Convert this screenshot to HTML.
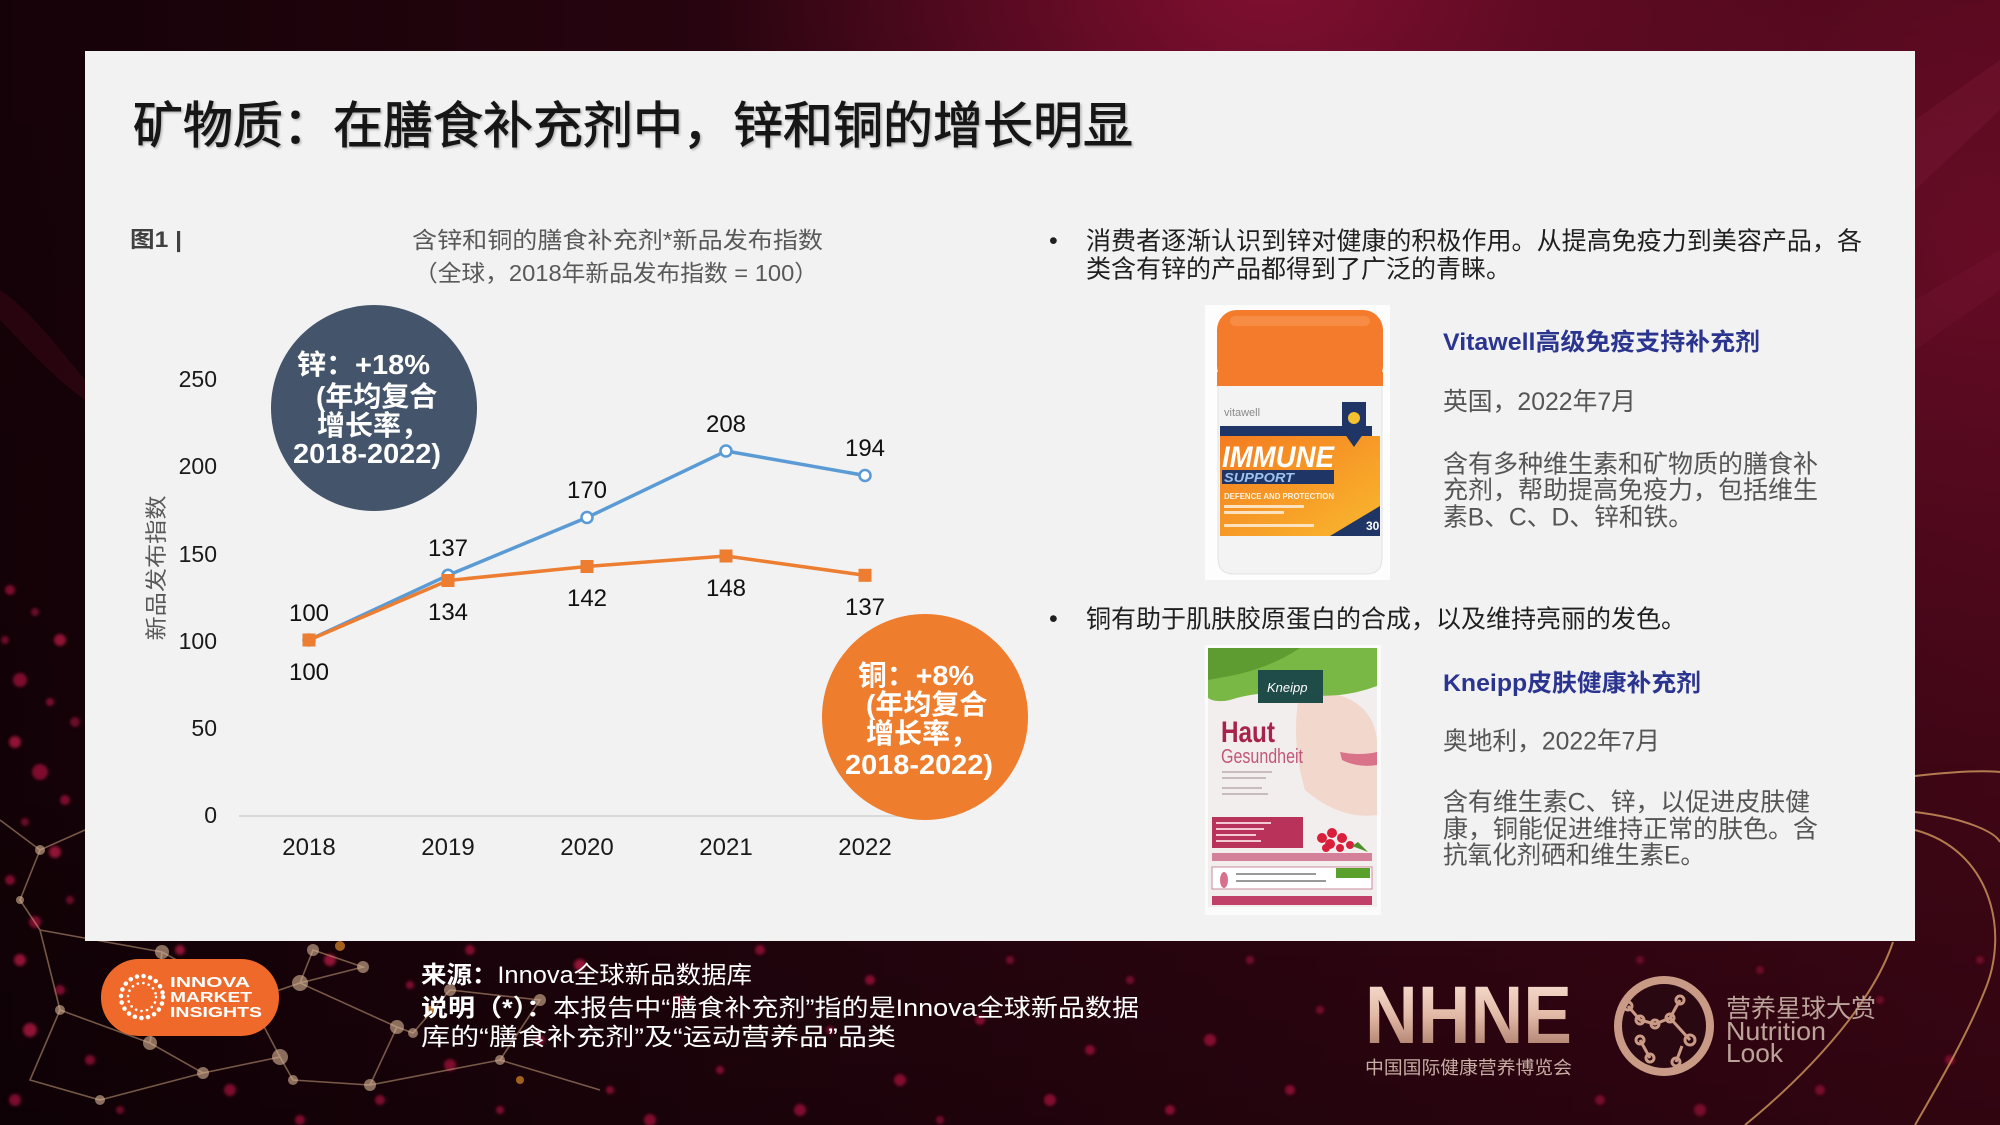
<!DOCTYPE html>
<html>
<head>
<meta charset="utf-8">
<style>
html,body{margin:0;padding:0;width:2000px;height:1125px;overflow:hidden;background:#1e0309;}
svg{display:block;}
text{font-family:"Liberation Sans","Noto Sans CJK SC",sans-serif;}
</style>
</head>
<body>
<svg width="2000" height="1125" viewBox="0 0 2000 1125" xmlns="http://www.w3.org/2000/svg">
<defs>
  <linearGradient id="bgH" x1="0" y1="0" x2="1" y2="0">
    <stop offset="0" stop-color="#150208"/>
    <stop offset="0.45" stop-color="#2c0511"/>
    <stop offset="1" stop-color="#4a0719"/>
  </linearGradient>
  <radialGradient id="glow1" cx="1270" cy="-40" r="560" gradientUnits="userSpaceOnUse">
    <stop offset="0" stop-color="#8a1034" stop-opacity="0.9"/>
    <stop offset="1" stop-color="#8a1034" stop-opacity="0"/>
  </radialGradient>
  <radialGradient id="glow2" cx="1980" cy="250" r="520" gradientUnits="userSpaceOnUse">
    <stop offset="0" stop-color="#6e0d28" stop-opacity="0.9"/>
    <stop offset="1" stop-color="#6e0d28" stop-opacity="0"/>
  </radialGradient>
  <linearGradient id="bgV" x1="0" y1="0" x2="0" y2="1">
    <stop offset="0" stop-color="#000" stop-opacity="0"/>
    <stop offset="0.7" stop-color="#000" stop-opacity="0.15"/>
    <stop offset="1" stop-color="#000" stop-opacity="0.35"/>
  </linearGradient>
  <linearGradient id="nhne" x1="0" y1="0" x2="0" y2="1">
    <stop offset="0" stop-color="#fbe6dc"/>
    <stop offset="0.5" stop-color="#e2b9a6"/>
    <stop offset="1" stop-color="#9a6a58"/>
  </linearGradient>
  <linearGradient id="lbl" x1="0" y1="0" x2="1" y2="1">
    <stop offset="0" stop-color="#f47c20"/>
    <stop offset="1" stop-color="#f9b82e"/>
  </linearGradient>
  <filter id="blur" x="-50%" y="-50%" width="200%" height="200%"><feGaussianBlur stdDeviation="1.6"/></filter>
  <filter id="tsh" x="-5%" y="-20%" width="110%" height="140%"><feDropShadow dx="1.5" dy="1.5" stdDeviation="1" flood-color="#000" flood-opacity="0.25"/></filter>
</defs>

<!-- background -->
<rect x="0" y="0" width="2000" height="1125" fill="url(#bgH)"/>
<rect x="0" y="0" width="2000" height="1125" fill="url(#glow1)"/>
<rect x="0" y="0" width="2000" height="1125" fill="url(#glow2)"/>
<path d="M1915,120 L2000,60 L2000,110 L1915,190 Z" fill="#8a2040" opacity="0.25"/>
<path d="M1915,300 L2000,250 L2000,290 L1915,350 Z" fill="#8a2040" opacity="0.2"/>
<path d="M0,290 C30,310 60,350 85,380 L85,400 C50,375 20,340 0,320 Z" fill="#4a0a1c" opacity="0.4"/>
<rect x="0" y="0" width="2000" height="1125" fill="url(#bgV)"/>

<!-- bokeh dots -->
<g fill="#c8194a" filter="url(#blur)">
  <circle cx="10" cy="590" r="5" opacity=".6"/><circle cx="35" cy="612" r="4" opacity=".5"/><circle cx="60" cy="640" r="6" opacity=".7"/>
  <circle cx="20" cy="680" r="7" opacity=".6"/><circle cx="50" cy="702" r="4" opacity=".6"/><circle cx="75" cy="722" r="5" opacity=".5"/>
  <circle cx="15" cy="742" r="6" opacity=".7"/><circle cx="40" cy="772" r="8" opacity=".6"/><circle cx="65" cy="800" r="5" opacity=".6"/>
  <circle cx="25" cy="822" r="4" opacity=".5"/><circle cx="55" cy="852" r="6" opacity=".7"/><circle cx="10" cy="880" r="5" opacity=".6"/>
  <circle cx="70" cy="900" r="4" opacity=".5"/><circle cx="35" cy="922" r="6" opacity=".6"/><circle cx="5" cy="640" r="4" opacity=".5"/>
  <circle cx="20" cy="960" r="6" opacity=".7"/><circle cx="60" cy="990" r="5" opacity=".6"/><circle cx="30" cy="1030" r="7" opacity=".7"/>
  <circle cx="90" cy="1060" r="5" opacity=".6"/><circle cx="15" cy="1100" r="6" opacity=".6"/><circle cx="120" cy="1110" r="4" opacity=".5"/>
  <circle cx="180" cy="950" r="5" opacity=".7"/><circle cx="230" cy="1090" r="6" opacity=".6"/><circle cx="260" cy="1010" r="4" opacity=".6"/>
  <circle cx="300" cy="1120" r="5" opacity=".6"/><circle cx="330" cy="960" r="6" opacity=".7"/><circle cx="380" cy="1100" r="5" opacity=".6"/>
  <circle cx="410" cy="985" r="4" opacity=".6"/><circle cx="450" cy="1065" r="6" opacity=".6"/><circle cx="470" cy="950" r="5" opacity=".6"/>
  <circle cx="500" cy="1110" r="4" opacity=".6"/><circle cx="540" cy="1040" r="5" opacity=".6"/><circle cx="580" cy="965" r="6" opacity=".7"/>
  <circle cx="610" cy="1090" r="4" opacity=".6"/><circle cx="650" cy="1120" r="6" opacity=".6"/><circle cx="680" cy="1000" r="5" opacity=".5"/>
  <circle cx="720" cy="1070" r="4" opacity=".6"/><circle cx="760" cy="950" r="5" opacity=".6"/><circle cx="800" cy="1110" r="6" opacity=".6"/>
  <circle cx="830" cy="1030" r="4" opacity=".5"/><circle cx="870" cy="980" r="5" opacity=".6"/><circle cx="900" cy="1080" r="6" opacity=".6"/>
  <circle cx="940" cy="1120" r="4" opacity=".5"/><circle cx="980" cy="1020" r="5" opacity=".6"/><circle cx="1010" cy="960" r="4" opacity=".5"/>
  <circle cx="1050" cy="1100" r="6" opacity=".6"/><circle cx="1090" cy="1050" r="5" opacity=".6"/><circle cx="1130" cy="980" r="4" opacity=".5"/>
  <circle cx="1170" cy="1110" r="5" opacity=".6"/><circle cx="1210" cy="1040" r="6" opacity=".6"/><circle cx="1250" cy="960" r="4" opacity=".5"/>
  <circle cx="1290" cy="1090" r="5" opacity=".6"/><circle cx="1320" cy="1010" r="4" opacity=".5"/><circle cx="1600" cy="1100" r="5" opacity=".5"/>
  <circle cx="1640" cy="960" r="4" opacity=".4"/><circle cx="1700" cy="1110" r="6" opacity=".5"/><circle cx="1760" cy="970" r="4" opacity=".4"/>
  <circle cx="1820" cy="1090" r="5" opacity=".5"/><circle cx="1880" cy="1000" r="4" opacity=".4"/><circle cx="1950" cy="1060" r="5" opacity=".5"/>
  <circle cx="1980" cy="960" r="4" opacity=".4"/>
</g>

<!-- network bottom-left -->
<g stroke="#caa07c" stroke-width="1.6" fill="none" opacity="0.55">
  <path d="M40,930 L162,952 L250,1000 L300,983 L313,950 L363,967 L300,983 L397,1027 L413,1033 L450,990 L540,1000 L500,1060 L600,1090"/>
  <path d="M397,1027 L370,1085 L293,1080 L280,1057 L250,1000"/>
  <path d="M280,1057 L203,1073 L150,1043 L60,1010 L40,930"/>
  <path d="M150,1043 L162,952 M203,1073 L100,1100 L30,1080 L60,1010 M370,1085 L500,1060"/>
  <path d="M0,820 L40,850 L85,830 M40,850 L20,900 L40,930"/>
</g>
<g fill="#dcb898" opacity="0.6">
  <circle cx="162" cy="952" r="7"/><circle cx="300" cy="983" r="8"/><circle cx="363" cy="967" r="6"/><circle cx="397" cy="1027" r="7"/>
  <circle cx="280" cy="1057" r="8"/><circle cx="203" cy="1073" r="6"/><circle cx="150" cy="1043" r="7"/><circle cx="293" cy="1080" r="5"/>
  <circle cx="370" cy="1085" r="6"/><circle cx="413" cy="1033" r="5"/><circle cx="313" cy="950" r="6"/><circle cx="60" cy="1010" r="5"/>
  <circle cx="100" cy="1100" r="5"/><circle cx="450" cy="990" r="6"/><circle cx="500" cy="1060" r="5"/><circle cx="540" cy="1000" r="6"/>
  <circle cx="250" cy="1000" r="5"/><circle cx="40" cy="850" r="5"/><circle cx="20" cy="900" r="4"/>
</g>
<g fill="#e08a2a" opacity="0.7">
  <circle cx="340" cy="946" r="5"/><circle cx="430" cy="1010" r="4"/><circle cx="520" cy="1080" r="4"/>
</g>

<!-- gold curves right -->
<g stroke="#c8915a" stroke-width="2" fill="none" opacity="0.85">
  <path d="M1915,776 C1950,772 1980,770 2000,772"/>
  <path d="M1915,812 C1965,818 1995,832 2000,842"/>
  <path d="M1915,830 C1990,850 2010,930 1985,990 C1965,1040 1935,1090 1915,1125"/>
  <path d="M1893,942 C1870,1010 1800,1080 1745,1125"/>
</g>

<!-- card -->
<rect x="85" y="51" width="1830" height="890" fill="#f2f2f2"/>

<!-- title -->
<text x="133" y="143" font-size="50" fill="#161616" stroke="#161616" stroke-width="0.9" textLength="1000" lengthAdjust="spacingAndGlyphs" filter="url(#tsh)">矿物质：在膳食补充剂中，锌和铜的增长明显</text>

<!-- chart header -->
<text x="130" y="247" font-size="22" font-weight="bold" fill="#404040" textLength="52" lengthAdjust="spacingAndGlyphs">图1 |</text>
<text x="412" y="248" font-size="23" fill="#595959" textLength="411" lengthAdjust="spacingAndGlyphs">含锌和铜的膳食补充剂*新品发布指数</text>
<text x="414" y="281" font-size="23" fill="#595959" textLength="404" lengthAdjust="spacingAndGlyphs">（全球，2018年新品发布指数 = 100）</text>

<!-- y axis title -->
<text transform="translate(164,568) rotate(-90)" text-anchor="middle" font-size="22" fill="#595959" textLength="145" lengthAdjust="spacingAndGlyphs">新品发布指数</text>

<!-- y ticks -->
<g font-size="23" fill="#1a1a1a" text-anchor="end">
  <text x="217" y="387">250</text>
  <text x="217" y="474">200</text>
  <text x="217" y="562">150</text>
  <text x="217" y="649">100</text>
  <text x="217" y="736">50</text>
  <text x="217" y="823">0</text>
</g>

<!-- axis line -->
<line x1="239" y1="816" x2="935" y2="816" stroke="#d9d9d9" stroke-width="2"/>

<!-- x labels -->
<g font-size="24" fill="#1a1a1a" text-anchor="middle">
  <text x="309" y="855">2018</text>
  <text x="448" y="855">2019</text>
  <text x="587" y="855">2020</text>
  <text x="726" y="855">2021</text>
  <text x="865" y="855">2022</text>
</g>

<!-- zinc series -->
<polyline points="309,640 448,575.3 587,517.5 726,451 865,475.5" fill="none" stroke="#5b9bd5" stroke-width="3.5" stroke-linejoin="round"/>
<g fill="#ffffff" stroke="#5b9bd5" stroke-width="2.6">
  <circle cx="309" cy="640" r="5.5"/><circle cx="448" cy="575.3" r="5.5"/><circle cx="587" cy="517.5" r="5.5"/>
  <circle cx="726" cy="451" r="5.5"/><circle cx="865" cy="475.5" r="5.5"/>
</g>
<!-- copper series -->
<polyline points="309,640 448,580.5 587,566.5 726,556 865,575.3" fill="none" stroke="#ed7d31" stroke-width="3.5" stroke-linejoin="round"/>
<g fill="#ed7d31">
  <rect x="302.5" y="633.5" width="13" height="13"/><rect x="441.5" y="574" width="13" height="13"/>
  <rect x="580.5" y="560" width="13" height="13"/><rect x="719.5" y="549.5" width="13" height="13"/>
  <rect x="858.5" y="568.8" width="13" height="13"/>
</g>

<!-- data labels -->
<g font-size="24" fill="#111" text-anchor="middle">
  <text x="309" y="621">100</text><text x="448" y="556">137</text><text x="587" y="498">170</text>
  <text x="726" y="432">208</text><text x="865" y="456">194</text>
  <text x="309" y="680">100</text><text x="448" y="620">134</text><text x="587" y="606">142</text>
  <text x="726" y="596">148</text><text x="865" y="615">137</text>
</g>

<!-- zinc bubble -->
<circle cx="374" cy="408" r="103" fill="#44546a"/>
<g font-size="28" font-weight="bold" fill="#ffffff">
  <text x="297" y="374" textLength="133" lengthAdjust="spacingAndGlyphs">锌：+18%</text>
  <text x="316" y="406">(年均复合</text>
  <text x="317" y="435">增长率，</text>
  <text x="293" y="463" textLength="148" lengthAdjust="spacingAndGlyphs">2018-2022)</text>
</g>

<!-- copper bubble -->
<circle cx="925" cy="717" r="103" fill="#ef7d2e"/>
<g font-size="28" font-weight="bold" fill="#ffffff">
  <text x="858" y="685" textLength="116" lengthAdjust="spacingAndGlyphs">铜：+8%</text>
  <text x="866" y="714">(年均复合</text>
  <text x="866" y="743">增长率，</text>
  <text x="845" y="774" textLength="148" lengthAdjust="spacingAndGlyphs">2018-2022)</text>
</g>

<!-- right text -->
<g font-size="25" fill="#1f1f1f">
  <text x="1049" y="249">•</text>
  <text x="1086" y="249.5" textLength="776" lengthAdjust="spacingAndGlyphs">消费者逐渐认识到锌对健康的积极作用。从提高免疫力到美容产品，各</text>
  <text x="1086" y="277.5" textLength="425" lengthAdjust="spacingAndGlyphs">类含有锌的产品都得到了广泛的青睐。</text>
  <text x="1049" y="627">•</text>
  <text x="1086" y="627.5" textLength="600" lengthAdjust="spacingAndGlyphs">铜有助于肌肤胶原蛋白的合成，以及维持亮丽的发色。</text>
</g>
<text x="1443" y="350" font-size="24" font-weight="bold" fill="#2b3590" textLength="317" lengthAdjust="spacingAndGlyphs">Vitawell高级免疫支持补充剂</text>
<text x="1443" y="691" font-size="24" font-weight="bold" fill="#2b3590" textLength="258" lengthAdjust="spacingAndGlyphs">Kneipp皮肤健康补充剂</text>
<g font-size="25" fill="#555555">
  <text x="1443" y="410" textLength="193" lengthAdjust="spacingAndGlyphs">英国，2022年7月</text>
  <text x="1443" y="472.5" textLength="375" lengthAdjust="spacingAndGlyphs">含有多种维生素和矿物质的膳食补</text>
  <text x="1443" y="498.5" textLength="375" lengthAdjust="spacingAndGlyphs">充剂，帮助提高免疫力，包括维生</text>
  <text x="1443" y="525.5" textLength="250" lengthAdjust="spacingAndGlyphs">素B、C、D、锌和铁。</text>
  <text x="1443" y="749.5" textLength="217" lengthAdjust="spacingAndGlyphs">奥地利，2022年7月</text>
  <text x="1443" y="810.5" textLength="367" lengthAdjust="spacingAndGlyphs">含有维生素C、锌，以促进皮肤健</text>
  <text x="1443" y="837.5" textLength="375" lengthAdjust="spacingAndGlyphs">康，铜能促进维持正常的肤色。含</text>
  <text x="1443" y="863.5" textLength="262" lengthAdjust="spacingAndGlyphs">抗氧化剂硒和维生素E。</text>
</g>

<!-- product 1 : Vitawell -->
<rect x="1205" y="305" width="185" height="275" fill="#fdfdfd"/>
<path d="M1218,382 L1382,382 L1382,558 Q1382,574 1366,574 L1234,574 Q1218,574 1218,558 Z" fill="#f3f3f3" stroke="#e2e2e2" stroke-width="1"/>
<rect x="1217" y="310" width="166" height="76" rx="20" fill="#f47b2b"/>
<rect x="1230" y="316" width="140" height="10" rx="5" fill="#f89a55" opacity="0.6"/>
<rect x="1217" y="372" width="166" height="14" fill="#f47b2b"/>
<text x="1224" y="416" font-size="11" fill="#8a8a8a">vitawell</text>
<rect x="1220" y="426" width="152" height="10" fill="#1f3566"/>
<rect x="1220" y="436" width="160" height="100" fill="url(#lbl)"/>
<text x="1222" y="467" font-size="30" font-weight="bold" font-style="italic" fill="#ffffff" textLength="112" lengthAdjust="spacingAndGlyphs">IMMUNE</text>
<rect x="1222" y="470" width="112" height="14" fill="#1f3566"/>
<text x="1224" y="482" font-size="13" font-weight="bold" font-style="italic" fill="#9fc3ee" textLength="70" lengthAdjust="spacingAndGlyphs">SUPPORT</text>
<text x="1224" y="499" font-size="8" font-weight="bold" fill="#fff3e0" textLength="110" lengthAdjust="spacingAndGlyphs">DEFENCE AND PROTECTION</text>
<rect x="1224" y="505" width="80" height="3" fill="#fde2c0"/>
<rect x="1224" y="511" width="60" height="3" fill="#fde2c0"/>
<rect x="1224" y="524" width="90" height="3" fill="#fde2c0"/>
<path d="M1342,402 L1366,402 L1366,430 L1354,447 L1342,430 Z" fill="#1f3566"/>
<circle cx="1354" cy="418" r="6" fill="#f2c230"/>
<path d="M1330,536 L1380,506 L1380,536 Z" fill="#1f3566"/>
<text x="1366" y="530" font-size="12" font-weight="bold" fill="#ffffff">30</text>

<!-- product 2 : Kneipp -->
<rect x="1205" y="645" width="176" height="270" fill="#fbfbfb"/>
<rect x="1208" y="648" width="169" height="259" fill="#f3eeee"/>
<path d="M1300,690 Q1372,690 1377,740 L1377,815 Q1340,820 1305,790 Q1290,740 1300,690 Z" fill="#f2d7cc"/>
<path d="M1340,752 Q1360,756 1377,752 L1377,765 Q1358,768 1342,760 Z" fill="#d9738a"/>
<path d="M1208,648 L1377,648 L1377,686 Q1340,700 1300,694 Q1260,690 1230,700 Q1215,703 1208,698 Z" fill="#79b844"/>
<path d="M1208,648 L1300,648 Q1270,668 1230,676 L1208,680 Z" fill="#5e9c32"/>
<rect x="1258" y="670" width="65" height="33" fill="#1f4b48"/>
<text x="1267" y="692" font-size="13" font-style="italic" fill="#ffffff">Kneipp</text>
<text x="1221" y="742" font-size="30" font-weight="bold" fill="#a8234b" textLength="54" lengthAdjust="spacingAndGlyphs">Haut</text>
<text x="1221" y="763" font-size="20" fill="#c0577a" textLength="82" lengthAdjust="spacingAndGlyphs">Gesundheit</text>
<g fill="#c9bcbc"><rect x="1222" y="771" width="50" height="2"/><rect x="1222" y="777" width="44" height="2"/><rect x="1222" y="787" width="40" height="2"/><rect x="1222" y="793" width="46" height="2"/></g>
<rect x="1212" y="817" width="91" height="31" fill="#b8325a"/>
<g fill="#f2c8d4"><rect x="1216" y="822" width="55" height="2"/><rect x="1216" y="828" width="48" height="2"/><rect x="1216" y="834" width="40" height="2"/><rect x="1216" y="840" width="45" height="2"/></g>
<g fill="#d81f3c">
  <circle cx="1322" cy="838" r="5"/><circle cx="1332" cy="833" r="5"/><circle cx="1342" cy="838" r="5"/><circle cx="1330" cy="844" r="5"/>
  <circle cx="1350" cy="845" r="4"/><circle cx="1340" cy="848" r="4"/><circle cx="1326" cy="848" r="4"/>
</g>
<path d="M1352,846 L1368,852 L1358,842 Z" fill="#4f8f2a"/>
<rect x="1212" y="853" width="160" height="8" fill="#d5809a"/>
<rect x="1212" y="867" width="160" height="22" fill="#ffffff" stroke="#c9889c" stroke-width="1"/>
<rect x="1336" y="868" width="34" height="10" fill="#5aa02c"/>
<ellipse cx="1224" cy="880" rx="4" ry="8" fill="#d9708c"/>
<g fill="#9a9a9a"><rect x="1236" y="873" width="80" height="2"/><rect x="1236" y="880" width="90" height="2"/></g>
<rect x="1212" y="896" width="160" height="9" fill="#c0406a"/>

<!-- footer: Innova logo -->
<rect x="101" y="959" width="178" height="77" rx="38" fill="#ef6a2a"/>
<circle cx="142" cy="997" r="21" fill="none" stroke="#ffffff" stroke-width="4.5" stroke-dasharray="0.1 6.59" stroke-linecap="round"/>
<circle cx="142" cy="997" r="14" fill="none" stroke="#ffffff" stroke-width="2.6" stroke-dasharray="0.1 5.5" stroke-linecap="round"/>
<g font-size="15" font-weight="bold" fill="#ffffff">
  <text x="170" y="987" textLength="80" lengthAdjust="spacingAndGlyphs">INNOVA</text>
  <text x="170" y="1002" textLength="82" lengthAdjust="spacingAndGlyphs">MARKET</text>
  <text x="170" y="1017" textLength="92" lengthAdjust="spacingAndGlyphs">INSIGHTS</text>
</g>

<!-- footer: source -->
<g font-size="24" fill="#ffffff">
  <text x="421" y="983" textLength="331" lengthAdjust="spacingAndGlyphs"><tspan font-weight="bold">来源：</tspan>Innova全球新品数据库</text>
  <text x="421" y="1016" textLength="718" lengthAdjust="spacingAndGlyphs"><tspan font-weight="bold">说明（*）：</tspan>本报告中“膳食补充剂”指的是Innova全球新品数据</text>
  <text x="421" y="1045" textLength="475" lengthAdjust="spacingAndGlyphs">库的“膳食补充剂”及“运动营养品”品类</text>
</g>

<!-- footer: NHNE -->
<text x="1365" y="1043" font-size="82" font-weight="bold" fill="url(#nhne)" textLength="207" lengthAdjust="spacingAndGlyphs">NHNE</text>
<text x="1365" y="1074" font-size="18" fill="#c9aea4" textLength="207" lengthAdjust="spacingAndGlyphs">中国国际健康营养博览会</text>

<!-- footer: Nutrition Look -->
<circle cx="1664" cy="1026" r="46" fill="#2a0812" stroke="#c99a85" stroke-width="8"/>
<g fill="none" stroke="#c99a85" stroke-width="3">
  <path d="M1628,1006 L1640,1020 L1655,1024 L1670,1018 L1680,1000 M1670,1018 L1690,1040 M1640,1040 L1650,1058 M1682,1046 L1676,1062"/>
  <circle cx="1628" cy="1006" r="4"/><circle cx="1640" cy="1020" r="4"/><circle cx="1655" cy="1024" r="4"/>
  <circle cx="1670" cy="1018" r="4"/><circle cx="1680" cy="1000" r="4"/><circle cx="1690" cy="1040" r="5"/>
  <circle cx="1640" cy="1040" r="4"/><circle cx="1650" cy="1058" r="4"/><circle cx="1676" cy="1062" r="4"/>
</g>
<g fill="#bca39a">
  <text x="1726" y="1017" font-size="25" textLength="150" lengthAdjust="spacingAndGlyphs">营养星球大赏</text>
  <text x="1726" y="1040" font-size="26" textLength="100" lengthAdjust="spacingAndGlyphs">Nutrition</text>
  <text x="1726" y="1062" font-size="26" textLength="57" lengthAdjust="spacingAndGlyphs">Look</text>
</g>
</svg>
</body>
</html>
